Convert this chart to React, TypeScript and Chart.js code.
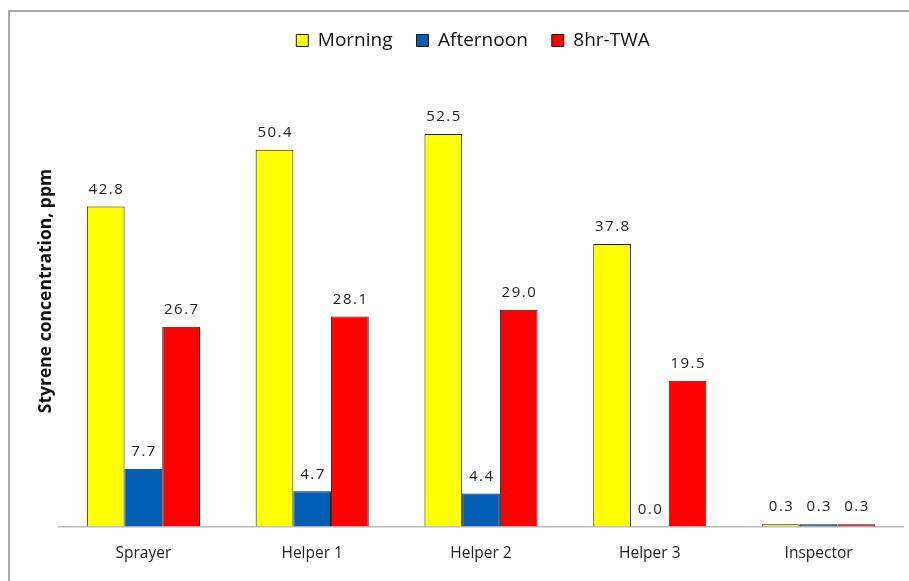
import React, { useEffect, useRef } from "react";
import { Chart, registerables } from "chart.js";

Chart.register(...registerables);

const categories = ["Sprayer", "Helper 1", "Helper 2", "Helper 3", "Inspector"];
const morning = [42.8, 50.4, 52.5, 37.8, 0.3];
const afternoon = [7.7, 4.7, 4.4, 0.0, 0.3];
const twa = [26.7, 28.1, 29.0, 19.5, 0.3];
const seriesNames = ["Morning", "Afternoon", "8hr-TWA"];
const yTitle = "Styrene concentration, ppm";

const FONT = "'Open Sans', 'Liberation Sans', sans-serif";

const framePlugin = {
  id: "frame",
  beforeInit(chart: any) {
    const legend = chart.legend;
    if (legend) {
      const orig = legend.fit;
      legend.fit = function () {
        orig.call(this);
        this.height += 18;
      };
    }
  },
  afterLayout(chart: any) {
    if (chart.legend) {
      chart.legend.left -= 16;
    }
  },
  beforeDraw(chart: any) {
    const ctx = chart.ctx;
    ctx.save();
    ctx.fillStyle = "#ffffff";
    ctx.fillRect(0, 0, chart.width, chart.height);
    ctx.strokeStyle = "#8a8a8a";
    ctx.lineWidth = 1.5;
    ctx.beginPath();
    ctx.moveTo(9, chart.height);
    ctx.lineTo(9, 11);
    ctx.lineTo(chart.width, 11);
    ctx.stroke();
    ctx.restore();
  },
  afterDraw(chart: any) {
    const ctx = chart.ctx;
    ctx.save();
    // y axis title
    ctx.translate(46, 291);
    ctx.rotate(-Math.PI / 2);
    ctx.font = `bold 17.5px ${FONT}`;
    ctx.fillStyle = "#111";
    ctx.textAlign = "center";
    ctx.textBaseline = "middle";
    ctx.fillText(yTitle, 0, 0);
    ctx.restore();

    // data labels
    ctx.save();
    ctx.font = `15px ${FONT}`;
    (ctx as any).letterSpacing = "1.5px";
    ctx.fillStyle = "#222";
    ctx.textAlign = "center";
    ctx.textBaseline = "middle";
    chart.data.datasets.forEach((ds: any, i: number) => {
      const meta = chart.getDatasetMeta(i);
      meta.data.forEach((bar: any, j: number) => {
        const v = ds.data[j];
        ctx.fillText(Number(v).toFixed(1), bar.x + 0.75, bar.y - 17);
      });
    });
    ctx.restore();
  },
};

export default function App() {
  const ref = useRef<HTMLCanvasElement>(null);
  useEffect(() => {
    if (!ref.current) return;
    const mk = (label: string, data: number[], color: string) => ({
      label,
      data,
      backgroundColor: color,
      borderColor: "#1a1a1a",
      borderWidth: 1,
      barPercentage: 1,
      categoryPercentage: 0.67,
    });
    const chart = new Chart(ref.current, {
      type: "bar",
      data: {
        labels: categories,
        datasets: [
          mk(seriesNames[0], morning, "#ffff00"),
          mk(seriesNames[1], afternoon, "#005fb5"),
          mk(seriesNames[2], twa, "#ff0000"),
        ],
      },
      options: {
        responsive: false,
        animation: false,
        devicePixelRatio: 1,
        layout: { padding: { left: 59, right: 6, top: 7, bottom: 0 } },
        plugins: {
          tooltip: { enabled: false },
          legend: {
            display: true,
            position: "top",
            labels: {
              boxWidth: 12,
              boxHeight: 12,
              padding: 24,
              color: "#111",
              font: { family: FONT, size: 19 },
            },
          },
        },
        scales: {
          x: {
            grid: { display: false, drawTicks: false },
            border: { display: true, color: "#bbbbbb", width: 1.5 },
            ticks: {
              padding: 18,
              color: "#222",
              font: { family: FONT, size: 15.5 },
            },
          },
          y: {
            display: false,
            min: 0,
            max: 60,
          },
        },
      },
      plugins: [framePlugin],
    });
    return () => chart.destroy();
  }, []);
  return (
    <canvas
      ref={ref}
      width={909}
      height={581}
      style={{ position: "absolute", left: 0, top: 0, width: 909, height: 581 }}
    />
  );
}
